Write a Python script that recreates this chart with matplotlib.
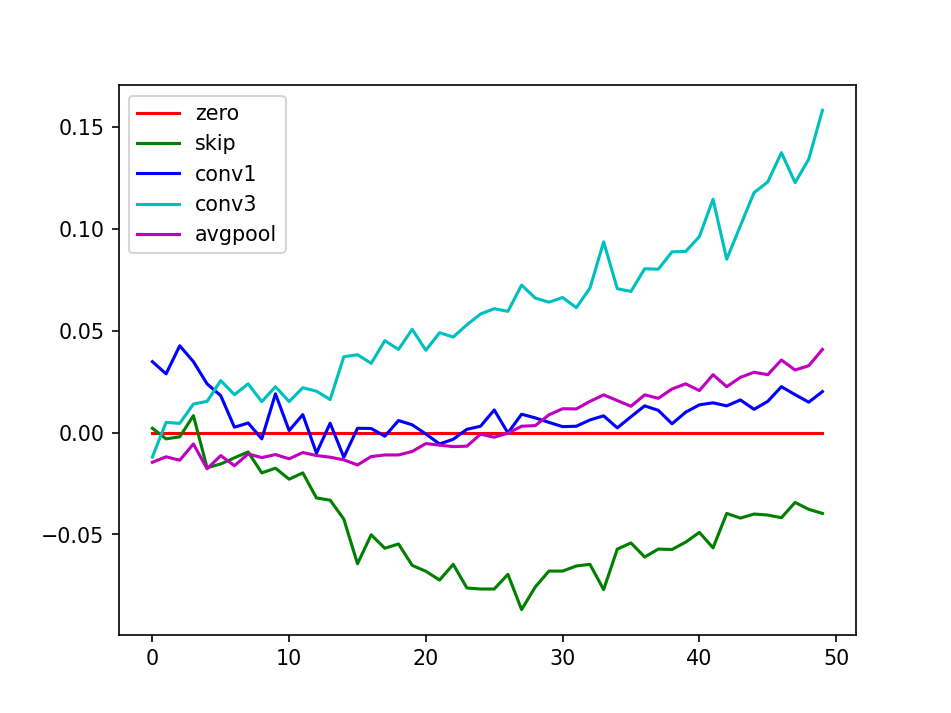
import matplotlib

matplotlib.use("Agg")
import matplotlib.pyplot as plt
import numpy as np

steps = np.arange(50)

zero = [0.0] * 50

skip = [
    0.0021, -0.0031, -0.0021, 0.0083, -0.0173, -0.0154, -0.0124, -0.0095, -0.0198, -0.0175,
    -0.0229, -0.0198, -0.0321, -0.0332, -0.0425, -0.0644, -0.0502, -0.0568, -0.0547, -0.0652,
    -0.0681, -0.0724, -0.0647, -0.0763, -0.0768, -0.0768, -0.0696, -0.0869, -0.0758, -0.0680,
    -0.0680, -0.0655, -0.0647, -0.0771, -0.0572, -0.0542, -0.0611, -0.0572, -0.0574, -0.0538,
    -0.0490, -0.0566, -0.0397, -0.0420, -0.0400, -0.0405, -0.0418, -0.0343, -0.0377, -0.0397,
]

conv1 = [
    0.0348, 0.0288, 0.0426, 0.0348, 0.0239, 0.0181, 0.0026, 0.0047, -0.0031, 0.0190,
    0.0010, 0.0088, -0.0101, 0.0046, -0.0121, 0.0021, 0.0020, -0.0018, 0.0059, 0.0038,
    -0.0007, -0.0056, -0.0033, 0.0016, 0.0031, 0.0111, -0.0002, 0.0090, 0.0072, 0.0050,
    0.0029, 0.0031, 0.0062, 0.0082, 0.0023, 0.0078, 0.0131, 0.0109, 0.0043, 0.0100,
    0.0136, 0.0146, 0.0131, 0.0160, 0.0114, 0.0153, 0.0225, 0.0186, 0.0149, 0.0201,
]

conv3 = [
    -0.0120, 0.0050, 0.0045, 0.0140, 0.0153, 0.0255, 0.0186, 0.0239, 0.0152, 0.0225,
    0.0152, 0.0220, 0.0203, 0.0162, 0.0372, 0.0382, 0.0340, 0.0451, 0.0408, 0.0507,
    0.0404, 0.0490, 0.0469, 0.0529, 0.0582, 0.0608, 0.0595, 0.0724, 0.0660, 0.0640,
    0.0663, 0.0613, 0.0709, 0.0936, 0.0706, 0.0693, 0.0804, 0.0802, 0.0887, 0.0889,
    0.0962, 0.1145, 0.0851, 0.1015, 0.1178, 0.1230, 0.1374, 0.1227, 0.1342, 0.1582,
]

avgpool = [
    -0.0146, -0.0119, -0.0136, -0.0056, -0.0178, -0.0113, -0.0163, -0.0105, -0.0123, -0.0108,
    -0.0129, -0.0098, -0.0113, -0.0121, -0.0134, -0.0159, -0.0118, -0.0110, -0.0110, -0.0093,
    -0.0054, -0.0062, -0.0069, -0.0067, -0.0008, -0.0023, -0.0003, 0.0031, 0.0034, 0.0087,
    0.0117, 0.0116, 0.0153, 0.0185, 0.0157, 0.0129, 0.0185, 0.0168, 0.0214, 0.0239,
    0.0206, 0.0284, 0.0225, 0.0271, 0.0296, 0.0284, 0.0356, 0.0307, 0.0328, 0.0408,
]

SERIES = [
    ("zero", zero, "r"),
    ("skip", skip, "g"),
    ("conv1", conv1, "b"),
    ("conv3", conv3, "c"),
    ("avgpool", avgpool, "m"),
]

fig, ax = plt.subplots(figsize=(6.4, 4.8))
for name, values, color in SERIES:
    ax.plot(steps, values, color=color, label=name)
ax.legend(loc="upper left")
fig.savefig("out.png", dpi=148.6)
plt.close(fig)
